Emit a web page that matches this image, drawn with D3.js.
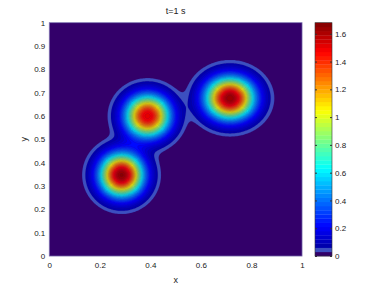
<!DOCTYPE html>
<html>
<head>
<meta charset="utf-8">
<script src="https://cdn.jsdelivr.net/npm/d3@7"></script>
<style>
  body { margin: 0; background: #fff; }
  svg { display: block; }
  text { font-family: "Liberation Sans", "DejaVu Sans", sans-serif; fill: #222; }
</style>
</head>
<body>
<svg id="chart" width="382" height="288"></svg>
<script>
// blob parameters (centre, peak, spread in x / y, profile exponent)
var blobX = [0.286, 0.389, 0.715];
var blobY = [0.347, 0.600, 0.676];
var blobPeak = [1.66, 1.52, 1.65];
var blobSx = [0.0593, 0.0608, 0.0667];
var blobSy = [0.0635, 0.0624, 0.0624];
var blobShape = [2.15, 2.15, 2.15];

var xTicks = [0, 0.2, 0.4, 0.6, 0.8, 1];
var yTicks = [0, 0.1, 0.2, 0.3, 0.4, 0.5, 0.6, 0.7, 0.8, 0.9, 1];
var cbTicks = [0, 0.2, 0.4, 0.6, 0.8, 1, 1.2, 1.4, 1.6];
var levelStep = 0.03, levelMax = 1.68;
var titleText = "t=1 s";

var svg = d3.select("#chart");
var margin = {left: 49.3, right: 80, top: 22.7, bottom: 32};
var W = 382, H = 288;
var x0 = margin.left, x1 = W - margin.right, y0 = margin.top, y1 = H - margin.bottom;

var xs = d3.scaleLinear().domain([0, 1]).range([x0, x1]);
var ys = d3.scaleLinear().domain([0, 1]).range([y1, y0]);

function jet(t) {
    var c = function (v) { return Math.max(0, Math.min(1, v)); };
    var r = c(1.5 - Math.abs(4 * t - 3)), g = c(1.5 - Math.abs(4 * t - 2)), b = c(1.5 - Math.abs(4 * t - 1));
    return d3.rgb(r * 255, g * 255, b * 255).formatHex();
}

var levels = d3.range(0, levelMax - 1e-9, levelStep);
var nBands = levels.length;
var bandColors = levels.map(function (v, i) { return jet((i + 0.5) / nBands); });
bandColors[0] = "#33006a";
bandColors[1] = "#3c4fc0";

// field on a grid
var n = 200;
var values = new Float64Array(n * n);
for (var j = 0; j < n; j++) {
    for (var i = 0; i < n; i++) {
        var px = (i + 0.5) / n, py = (j + 0.5) / n, v = 0;
        for (var k = 0; k < blobX.length; k++) {
            var dx = (px - blobX[k]) / blobSx[k], dy = (py - blobY[k]) / blobSy[k];
            v += blobPeak[k] * Math.exp(-0.5 * Math.pow(dx * dx + dy * dy, blobShape[k] / 2));
        }
        values[i + j * n] = v;
    }
}

var contours = d3.contours().size([n, n]).thresholds(levels)(values);
var proj = d3.geoTransform({
    point: function (x, y) { this.stream.point(xs(x / n), ys(y / n)); }
});
var path = d3.geoPath(proj);

svg.append("clipPath").attr("id", "clip")
    .append("rect").attr("x", x0).attr("y", y0).attr("width", x1 - x0).attr("height", y1 - y0);

var plot = svg.append("g").attr("clip-path", "url(#clip)");
plot.append("rect").attr("x", x0).attr("y", y0).attr("width", x1 - x0).attr("height", y1 - y0)
    .attr("fill", bandColors[0]);

plot.selectAll("path.band")
    .data(contours.slice(1))
    .enter().append("path")
    .attr("class", "band")
    .attr("d", path)
    .attr("fill", function (d, i) { return bandColors[i + 1]; })
    .attr("stroke", "rgba(50,0,100,0.3)")
    .attr("stroke-width", 0.5);

svg.append("rect").attr("x", x0).attr("y", y0).attr("width", x1 - x0).attr("height", y1 - y0)
    .attr("fill", "none").attr("stroke", "#6c5ca4").attr("stroke-width", 0.8);

// axes
var xAxis = svg.append("g").attr("transform", "translate(0," + y1 + ")")
    .call(d3.axisBottom(xs).tickValues(xTicks).tickSize(0).tickPadding(6).tickFormat(d3.format("")));
var yAxis = svg.append("g").attr("transform", "translate(" + x0 + ",0)")
    .call(d3.axisLeft(ys).tickValues(yTicks).tickSize(0).tickPadding(4).tickFormat(d3.format("")));
[xAxis, yAxis].forEach(function (g) {
    g.select(".domain").remove();
    g.selectAll("text").attr("font-size", "8px").attr("font-family", null).style("fill", "#222");
});

svg.append("text").attr("x", (x0 + x1) / 2).attr("y", 14).attr("text-anchor", "middle")
    .attr("font-size", "9px").text(titleText);
svg.append("text").attr("x", (x0 + x1) / 2).attr("y", 283).attr("text-anchor", "middle")
    .attr("font-size", "9px").text("x");
svg.append("text").attr("transform", "translate(27," + ((y0 + y1) / 2) + ") rotate(-90)")
    .attr("text-anchor", "middle").attr("font-size", "9px").text("y");

// colorbar
var cbX = 315, cbW = 17;
var cs = d3.scaleLinear().domain([0, levelMax]).range([y1, y0]);
var cb = svg.append("g");
cb.selectAll("rect.cb")
    .data(levels)
    .enter().append("rect")
    .attr("x", cbX).attr("width", cbW)
    .attr("y", function (d) { return cs(d + levelStep); })
    .attr("height", function (d) { return cs(d) - cs(d + levelStep) + 0.3; })
    .attr("fill", function (d, i) { return bandColors[i]; });
cb.append("rect").attr("x", cbX).attr("y", y0).attr("width", cbW).attr("height", y1 - y0)
    .attr("fill", "none").attr("stroke", "#333").attr("stroke-width", 0.6);
var cbAxis = cb.append("g").attr("transform", "translate(" + (cbX + cbW) + ",0)")
    .call(d3.axisRight(cs).tickValues(cbTicks).tickSize(-2).tickPadding(3).tickFormat(d3.format("")));
cbAxis.select(".domain").remove();
cbAxis.selectAll("line").attr("stroke", "#333");
cbAxis.selectAll("text").attr("font-size", "8px").attr("font-family", null).style("fill", "#222");
cb.append("g").attr("transform", "translate(" + cbX + ",0)")
    .call(d3.axisLeft(cs).tickValues(cbTicks).tickSize(-2).tickFormat(""))
    .call(function (g) { g.select(".domain").remove(); g.selectAll("line").attr("stroke", "#333"); });
</script>
</body>
</html>
